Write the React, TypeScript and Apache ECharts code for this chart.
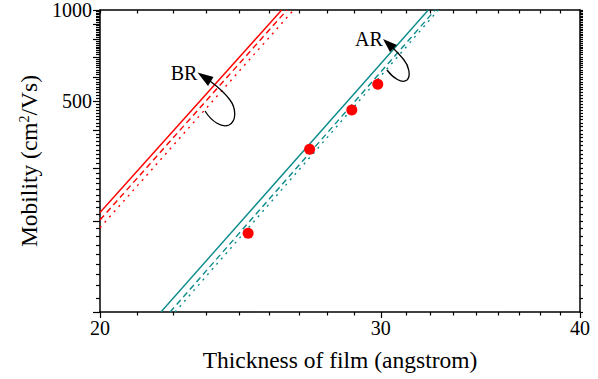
import React, { useEffect, useRef } from 'react';
import * as echarts from 'echarts';

// ---- data ----
const xMajorTicks = [20, 30, 40];
const xLabels = [20, 30, 40];
const yMajorTicks = [100, 200, 300, 400, 500, 600, 700, 800, 900, 1000];
const yLabels = [500, 1000];

const brSolid = [[20, 213.5], [26.0, 1000]];
const brDashed = [[20, 201.7], [26.2, 1000]];
const brDotted = [[20, 190.1], [26.45, 1000]];
const arSolid = [[21.84, 100], [32.13, 1000]];
const arDashed = [[22.13, 100], [32.45, 1000]];
const arDotted = [[22.29, 100], [32.6, 1000]];
const measured = [[24.77, 182.2], [27.07, 346], [28.77, 466.6], [29.87, 567.5]];

// minor ticks: 8 equal subdivisions between consecutive major ticks
function subdivide(majors: number[], parts: number): number[] {
  const out: number[] = [];
  for (let i = 0; i < majors.length - 1; i++) {
    const a = majors[i];
    const b = majors[i + 1];
    for (let k = 1; k < parts; k++) out.push(a + ((b - a) * k) / parts);
  }
  return out;
}
const xMinorTicks = subdivide(xMajorTicks, 9);
const yMinorTicks = subdivide(yMajorTicks, 9);

const FONT = '"Liberation Serif", "Times New Roman", serif';
const RED = '#ff0000';
const TEAL = '#0a8a8a';

echarts.graphic.registerShape(
  'brArrow',
  echarts.graphic.extendPath(
    'M205 111 C212 122 222 128 229 125 C237 121 236 108 230 100 C225 93 218 87 210 81',
    {}
  ) as any
);
echarts.graphic.registerShape(
  'arArrow',
  echarts.graphic.extendPath(
    'M387 70 C393 78 402 84 407 80 C411 76 409 66 404 60 C400 55 397 52 393 48',
    {}
  ) as any
);

const axisLine = { show: true, lineStyle: { color: '#000', width: 1.5 } };
const plain = (v: number) => String(Math.round(v));

export default function App() {
  const ref = useRef<HTMLDivElement>(null);
  useEffect(() => {
    if (!ref.current) return;
    const chart = echarts.init(ref.current, undefined, { renderer: 'svg' });
    const lineSeries = (data: number[][], color: string, type: any) => ({
      type: 'line',
      data,
      showSymbol: false,
      symbol: 'none',
      xAxisIndex: 0,
      yAxisIndex: 0,
      lineStyle: { color, width: 1.4, type },
      silent: true,
    });
    chart.setOption({
      animation: false,
      grid: { left: 100, right: 18, top: 10, bottom: 67 },
      xAxis: [
        {
          type: 'log', min: 20, max: 40, position: 'bottom',
          axisLine,
          axisTick: { customValues: xMajorTicks, length: 6, lineStyle: { color: '#000', width: 1.2 } },
          axisLabel: { customValues: xLabels, formatter: plain, fontFamily: FONT, fontSize: 20, color: '#000', margin: 6 },
          splitLine: { show: false },
          name: 'Thickness of film (angstrom)',
          nameLocation: 'middle',
          nameGap: 36,
          nameTextStyle: { fontFamily: FONT, fontSize: 23.5, color: '#000' },
        },
        {
          type: 'log', min: 20, max: 40, position: 'bottom',
          axisLine: { show: false },
          axisTick: { customValues: xMinorTicks, length: 3.5, lineStyle: { color: '#000', width: 1.2 } },
          axisLabel: { show: false },
          splitLine: { show: false },
        },
        {
          type: 'log', min: 20, max: 40, position: 'top',
          axisLine,
          axisTick: { customValues: [...xMajorTicks, ...xMinorTicks], inside: true, length: 3.5, lineStyle: { color: '#000', width: 1.2 } },
          axisLabel: { show: false },
          splitLine: { show: false },
        },
      ],
      yAxis: [
        {
          type: 'log', min: 100, max: 1000, position: 'left',
          axisLine,
          axisTick: { customValues: yMajorTicks, length: 7, lineStyle: { color: '#000', width: 1.2 } },
          axisLabel: { customValues: yLabels, formatter: plain, fontFamily: FONT, fontSize: 20, color: '#000', margin: 8 },
          splitLine: { show: false },
          name: '{a|Mobility (cm}{s|2}{a|/Vs)}',
          nameLocation: 'middle',
          nameGap: 58,
          nameRotate: 90,
          nameTextStyle: {
            fontFamily: FONT, fontSize: 23.5, color: '#000',
            rich: {
              a: { fontFamily: FONT, fontSize: 23.5, color: '#000' },
              s: { fontFamily: FONT, fontSize: 14, color: '#000', verticalAlign: 'top', padding: [0, 0, 10, 0] },
            },
          },
        },
        {
          type: 'log', min: 100, max: 1000, position: 'left',
          axisLine: { show: false },
          axisTick: { customValues: yMinorTicks, length: 4, lineStyle: { color: '#000', width: 1.2 } },
          axisLabel: { show: false },
          splitLine: { show: false },
        },
        {
          type: 'log', min: 100, max: 1000, position: 'right',
          axisLine,
          axisTick: { customValues: [...yMajorTicks, ...yMinorTicks], length: 3, lineStyle: { color: '#000', width: 1.2 } },
          axisLabel: { show: false },
          splitLine: { show: false },
        },
      ],
      series: [
        lineSeries(brSolid, RED, 'solid'),
        lineSeries(brDashed, RED, [6, 4]),
        lineSeries(brDotted, RED, [2, 5]),
        lineSeries(arSolid, TEAL, 'solid'),
        lineSeries(arDashed, TEAL, [6, 4]),
        lineSeries(arDotted, TEAL, [2, 5]),
        {
          type: 'scatter',
          data: measured,
          xAxisIndex: 0,
          yAxisIndex: 0,
          symbol: 'circle',
          symbolSize: 11,
          itemStyle: { color: RED, opacity: 1 },
          z: 5,
        },
      ],
      graphic: [
        { type: 'brArrow', x: 0, y: 0, style: { fill: 'none', stroke: '#000', lineWidth: 1.3 }, z: 10 },
        { type: 'polygon', shape: { points: [[197.5, 72.5], [213.5, 77], [208, 86]] }, style: { fill: '#000' }, z: 10 },
        { type: 'arArrow', x: 0, y: 0, style: { fill: 'none', stroke: '#000', lineWidth: 1.3 }, z: 10 },
        { type: 'polygon', shape: { points: [[383, 39], [397, 45], [390, 52]] }, style: { fill: '#000' }, z: 10 },
        { type: 'text', x: 184, y: 73, style: { text: 'BR', font: '20px "Liberation Serif"', fill: '#000', textAlign: 'center', textVerticalAlign: 'middle' }, z: 10 },
        { type: 'text', x: 369, y: 38.5, style: { text: 'AR', font: '20px "Liberation Serif"', fill: '#000', textAlign: 'center', textVerticalAlign: 'middle' }, z: 10 },
      ],
    });
    return () => chart.dispose();
  }, []);
  return <div ref={ref} style={{ width: 598, height: 379, position: 'absolute', left: 0, top: 0 }} />;
}
